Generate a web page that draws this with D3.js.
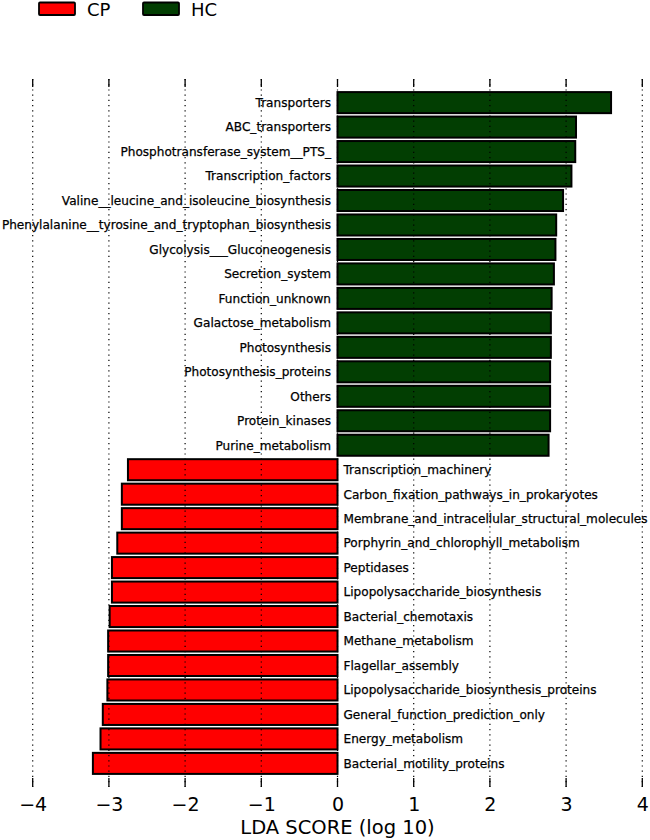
<!DOCTYPE html>
<html>
<head>
<meta charset="utf-8">
<script src="https://cdn.jsdelivr.net/npm/d3@7"></script>
<style>
  html, body { margin: 0; padding: 0; background: #fff; }
  svg { display: block; }
  text { font-family: "DejaVu Sans", sans-serif; fill: #000; }
</style>
</head>
<body>
<svg id="chart" width="650" height="840"></svg>
<script>
const groups = ["CP", "HC"];
const groupColors = ["#ff0000", "#023e02"];

const hcNames = [
  "Transporters", "ABC_transporters", "Phosphotransferase_system__PTS_",
  "Transcription_factors", "Valine__leucine_and_isoleucine_biosynthesis",
  "Phenylalanine__tyrosine_and_tryptophan_biosynthesis",
  "Glycolysis___Gluconeogenesis", "Secretion_system", "Function_unknown",
  "Galactose_metabolism", "Photosynthesis", "Photosynthesis_proteins",
  "Others", "Protein_kinases", "Purine_metabolism"
];
const hcValues = [3.59, 3.13, 3.12, 3.07, 2.96, 2.87, 2.86, 2.84, 2.81, 2.80, 2.80, 2.79, 2.79, 2.79, 2.77];

const cpNames = [
  "Transcription_machinery", "Carbon_fixation_pathways_in_prokaryotes",
  "Membrane_and_intracellular_structural_molecules",
  "Porphyrin_and_chlorophyll_metabolism", "Peptidases",
  "Lipopolysaccharide_biosynthesis", "Bacterial_chemotaxis",
  "Methane_metabolism", "Flagellar_assembly",
  "Lipopolysaccharide_biosynthesis_proteins",
  "General_function_prediction_only", "Energy_metabolism",
  "Bacterial_motility_proteins"
];
const cpValues = [-2.75, -2.83, -2.83, -2.89, -2.96, -2.96, -2.99, -3.01, -3.01, -3.02, -3.08, -3.11, -3.21];

const xTicks = [-4, -3, -2, -1, 0, 1, 2, 3, 4];
const xTitle = "LDA SCORE (log 10)";

const rows = hcNames.map((n, i) => ({name: n, value: hcValues[i], group: 1}))
  .concat(cpNames.map((n, i) => ({name: n, value: cpValues[i], group: 0})));

const svg = d3.select("#chart");
const plotTop = 79, plotBottom = 787;

const x = d3.scaleLinear().domain([-4, 4]).range([32.7, 642.3]);
const y = d3.scaleBand().domain(rows.map(d => d.name)).range([plotTop, plotBottom])
  .paddingInner(0.14).paddingOuter(0.535);

// bars
svg.append("g").selectAll("rect").data(rows).join("rect")
  .attr("x", d => x(Math.min(0, d.value)))
  .attr("width", d => Math.abs(x(d.value) - x(0)))
  .attr("y", d => y(d.name))
  .attr("height", y.bandwidth())
  .attr("fill", d => groupColors[d.group])
  .attr("stroke", "#000")
  .attr("stroke-width", 2);

// labels
svg.append("g").selectAll("text").data(rows).join("text")
  .attr("x", d => d.value > 0 ? x(0) - 6.5 : x(0) + 6)
  .attr("y", d => y(d.name) + y.bandwidth() / 2)
  .attr("dy", "0.36em")
  .attr("text-anchor", d => d.value > 0 ? "end" : "start")
  .attr("font-size", 12.1)
  .attr("stroke", "#000").attr("stroke-width", 0.25)
  .text(d => d.name);

// dotted grid
svg.append("g").selectAll("line").data(xTicks).join("line")
  .attr("x1", d => x(d)).attr("x2", d => x(d))
  .attr("y1", plotTop).attr("y2", plotBottom)
  .attr("stroke", "#000").attr("stroke-width", 1.2)
  .attr("stroke-dasharray", "1.2,4");

// inward ticks top & bottom
const tickG = svg.append("g");
tickG.selectAll("line.t").data(xTicks).join("line").attr("class", "t")
  .attr("x1", d => x(d)).attr("x2", d => x(d))
  .attr("y1", plotTop).attr("y2", plotTop + 8)
  .attr("stroke", "#000").attr("stroke-width", 1.3);
tickG.selectAll("line.b").data(xTicks).join("line").attr("class", "b")
  .attr("x1", d => x(d)).attr("x2", d => x(d))
  .attr("y1", plotBottom - 9).attr("y2", plotBottom)
  .attr("stroke", "#000").attr("stroke-width", 1.3);

// bottom tick labels via axis
const axis = d3.axisBottom(x).tickValues(xTicks).tickSize(0).tickPadding(0)
  .tickFormat(d => d < 0 ? "\u2212" + Math.abs(d) : String(d));
const ag = svg.append("g").attr("transform", `translate(0,${plotBottom})`).call(axis);
ag.select(".domain").remove();
ag.selectAll("text").attr("font-size", 19).attr("dy", null).attr("y", 24)
  .style("font-family", "DejaVu Sans, sans-serif").attr("fill", "#000");

svg.append("text").attr("x", x(0)).attr("y", 834)
  .attr("text-anchor", "middle").attr("font-size", 19.5).text(xTitle);

// legend
const legX = [39, 143];
const leg = svg.append("g");
groups.forEach((g, i) => {
  leg.append("rect").attr("x", legX[i]).attr("y", 2.5).attr("width", 36).attr("height", 12.5)
    .attr("fill", groupColors[i]).attr("stroke", "#000").attr("stroke-width", 1.8).attr("rx", 1);
  leg.append("text").attr("x", legX[i] + 48).attr("y", 16).attr("font-size", 18).text(g);
});
</script>
</body>
</html>
